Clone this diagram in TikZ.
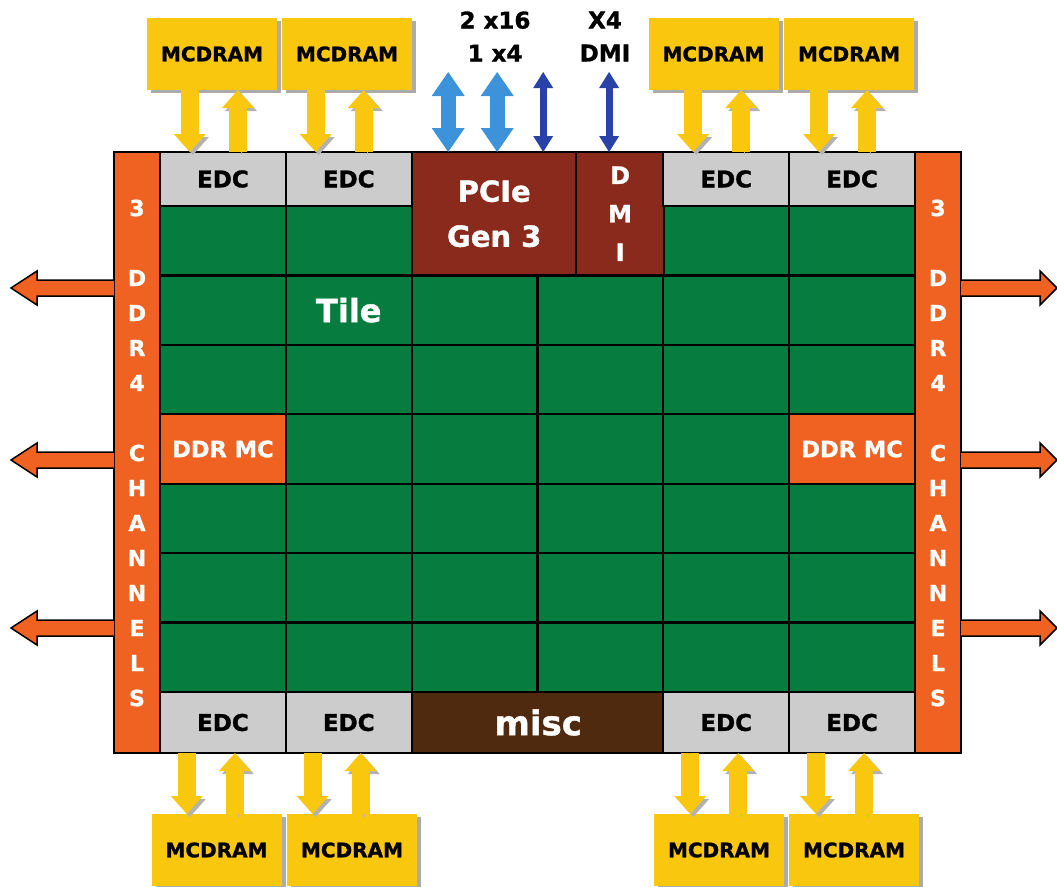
\documentclass[tikz,border=0pt]{standalone}
\usepackage{fontspec}
\setmainfont{DejaVu Sans}[BoldFeatures={FakeBold=1.2}]
\usepackage{tikz}
\usetikzlibrary{arrows.meta, shadows, calc}

\definecolor{ddrorange}{RGB}{240,98,34}
\definecolor{tilegreen}{RGB}{6,125,62}
\definecolor{edcgray}{RGB}{204,204,204}
\definecolor{pciebrown}{RGB}{138,42,28}
\definecolor{miscbrown}{RGB}{80,42,14}
\definecolor{memyellow}{RGB}{249,200,14}
\definecolor{lanelight}{RGB}{60,147,218}
\definecolor{lanedark}{RGB}{40,66,168}

\tikzset{
  cell/.style={rectangle, draw=black, line width=2.2pt, inner sep=0pt, outer sep=0pt},
  tile/.style={cell, fill=tilegreen, minimum width=125.8pt, minimum height=69.4pt},
  edc/.style={cell, fill=edcgray, minimum width=125.8pt,
    font=\fontsize{23}{27}\selectfont\bfseries},
  iobox/.style={cell, fill=pciebrown, text=white, align=center},
  miscbox/.style={cell, fill=miscbrown, text=white, minimum width=251.7pt,
    minimum height=61pt, font=\fontsize{34}{40}\selectfont\bfseries},
  ddrmc/.style={tile, fill=ddrorange, text=white,
    font=\fontsize{22.5}{27}\selectfont\bfseries},
  chan/.style={cell, fill=ddrorange, minimum width=46pt, minimum height=601pt},
  chanletter/.style={text=white, inner sep=0pt, font=\fontsize{22}{26}\selectfont\bfseries},
  tilelabel/.style={text=white, font=\fontsize{32}{38}\selectfont\bfseries},
  mcdram/.style={rectangle, fill=memyellow, minimum width=130pt, minimum height=72pt,
    inner sep=0pt, outer sep=0pt, font=\fontsize{20}{24}\selectfont\bfseries,
    drop shadow={shadow xshift=4pt, shadow yshift=-3pt, fill=black!55, opacity=0.6}},
  memlink/.style={draw=memyellow, line width=18pt,
    -{Triangle[width=32pt, length=18pt, line width=0pt]},
    preaction={draw=black!30, transform canvas={shift={(3pt,-3pt)}}}},
  widelane/.style={draw=lanelight, line width=15pt,
    {Triangle[width=33pt, length=24pt, line width=0pt]}-{Triangle[width=33pt, length=24pt, line width=0pt]}},
  thinlane/.style={draw=lanedark, line width=7pt,
    {Triangle[width=20pt, length=16pt, line width=0pt]}-{Triangle[width=20pt, length=16pt, line width=0pt]}},
  lanelabel/.style={align=center, inner sep=0pt, font=\fontsize{23}{33}\selectfont\bfseries},
  ddrout/.style={fill=ddrorange, draw=black, line width=1.5pt, line join=miter}
}

\begin{document}
\begin{tikzpicture}[x=1pt, y=-1pt]
  \useasboundingbox (0,0) rectangle (1057,886);

  % --- Tile grid ---
  \foreach \c in {1,...,6}{
    \foreach \r in {1,...,7}{
      \node[tile] (t-\c-\r) at ({160+125.83*(\c-0.5)}, {206+69.43*(\r-0.5)}) {};
    }
  }

  % --- Memory controllers and tile label ---
  \node[ddrmc] (mcL) at (t-1-4) {DDR MC};
  \node[ddrmc] (mcR) at (t-6-4) {DDR MC};
  \node[tilelabel] (tilelbl) at (t-2-2) {Tile};

  % --- PCIe / DMI / misc ---
  \node[iobox, minimum width=164pt, minimum height=123.4pt,
    font=\fontsize{29}{45}\selectfont\bfseries] (pcie) at (494.2,213.7) {PCIe\\Gen 3};
  \node[iobox, minimum width=87.8pt, minimum height=123.4pt,
    font=\fontsize{24}{38.5}\selectfont\bfseries] (dmi) at (620.1,213.7) {D\\M\\I};
  \node[miscbox] (misc) at (538.2,722.5) {misc};

  % --- EDC rows ---
  \foreach \c/\n in {1/1,2/2,5/3,6/4}{
    \node[edc, minimum height=54pt] (edcT\n) at ({160+125.83*(\c-0.5)}, 179) {EDC};
    \node[edc, minimum height=61pt] (edcB\n) at ({160+125.83*(\c-0.5)}, 722.5) {EDC};
  }

  % --- DDR4 channel columns ---
  \node[chan] (chanL) at (137,452.5) {};
  \node[chan] (chanR) at (938,452.5) {};
  \foreach \k/\ch in {0/3,2/D,3/D,4/R,5/4,7/C,8/H,9/A,10/N,11/N,12/E,13/L,14/S}{
    \node[chanletter] (chl-\k) at (137,{208+35*\k}) {\ch};
    \node[chanletter] (chr-\k) at (938,{208+35*\k}) {\ch};
  }

  % --- Chip outline ---
  \draw[line width=2.4pt] (chanL.north west) rectangle (chanR.south east);

  % --- MCDRAM stacks ---
  \node[mcdram] (mcT1) at (212,54) {MCDRAM};
  \node[mcdram] (mcT2) at (347,54) {MCDRAM};
  \node[mcdram] (mcT3) at (713.5,54) {MCDRAM};
  \node[mcdram] (mcT4) at (849,54) {MCDRAM};
  \node[mcdram] (mcB1) at (216.5,850) {MCDRAM};
  \node[mcdram] (mcB2) at (352,850) {MCDRAM};
  \node[mcdram] (mcB3) at (719,850) {MCDRAM};
  \node[mcdram] (mcB4) at (854,850) {MCDRAM};

  % --- MCDRAM <-> EDC links ---
  \foreach \n in {1,...,4}{
    \draw[memlink] ([xshift=-33pt]edcT\n.north |- mcT\n.south) -- ([xshift=-33pt]edcT\n.north);
    \draw[memlink] ([xshift=15pt]edcT\n.north) -- ([xshift=15pt]edcT\n.north |- mcT\n.south);
    \draw[memlink] ([xshift=-36pt]edcB\n.south) -- ([xshift=-36pt]edcB\n.south |- mcB\n.north);
    \draw[memlink] ([xshift=12pt]edcB\n.south |- mcB\n.north) -- ([xshift=12pt]edcB\n.south);
  }

  % --- PCIe / DMI lanes ---
  \coordinate (lanetop) at (0,72);
  \draw[widelane] ([xshift=-46pt]pcie.north) -- ([xshift=-46pt]pcie.north |- lanetop);
  \draw[widelane] ([xshift=3pt]pcie.north) -- ([xshift=3pt]pcie.north |- lanetop);
  \draw[thinlane] ([xshift=49pt]pcie.north) -- ([xshift=49pt]pcie.north |- lanetop);
  \draw[thinlane] ([xshift=-11pt]dmi.north) -- ([xshift=-11pt]dmi.north |- lanetop);

  \node[lanelabel] (pcielbl) at (495,36.5) {2 x16\\1 x4};
  \node[lanelabel] (dmilbl) at (605,36.5) {X4\\DMI};

  % --- DDR4 channel arrows ---
  \foreach \y in {288,460,628}{
    \draw[ddrout] (chanL.west |- 0,\y) ++(0,-8) -- ++(-77,0) -- ++(0,-9)
      -- ++(-26,17) -- ++(26,17) -- ++(0,-9) -- ++(77,0);
    \draw[ddrout] (chanR.east |- 0,\y) ++(0,-8) -- ++(79,0) -- ++(0,-9)
      -- ++(17,17) -- ++(-17,17) -- ++(0,-9) -- ++(-79,0);
  }

\end{tikzpicture}
\end{document}
